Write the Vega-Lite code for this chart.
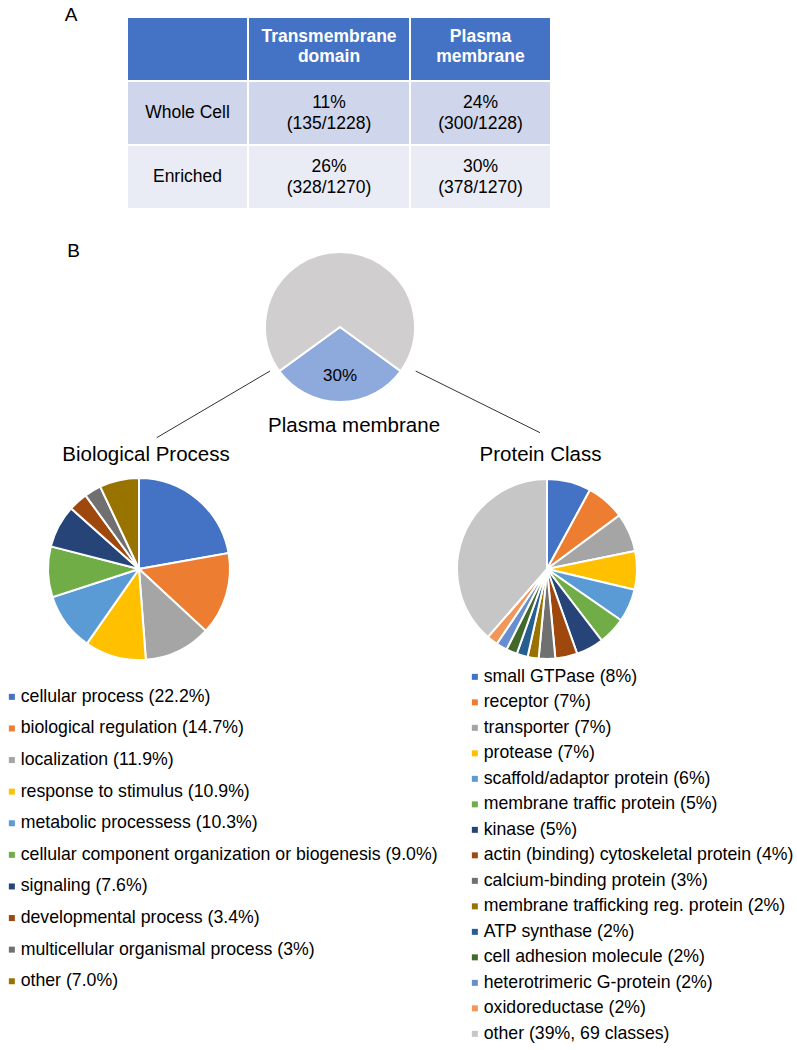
{
  "$schema": "https://vega.github.io/schema/vega-lite/v6.json",
  "padding": 0,
  "background": "white",
  "spacing": 0,
  "config": {
    "view": {"stroke": null},
    "font": "Liberation Sans",
    "text": {"color": "black"}
  },
  "datasets": {
    "table": [
      {"row": "header", "col": "label", "text": ""},
      {"row": "header", "col": "tm", "text": "Transmembrane\ndomain"},
      {"row": "header", "col": "pm", "text": "Plasma\nmembrane"},
      {"row": "Whole Cell", "col": "label", "text": "Whole Cell"},
      {"row": "Whole Cell", "col": "tm", "text": "11%\n(135/1228)"},
      {"row": "Whole Cell", "col": "pm", "text": "24%\n(300/1228)"},
      {"row": "Enriched", "col": "label", "text": "Enriched"},
      {"row": "Enriched", "col": "tm", "text": "26%\n(328/1270)"},
      {"row": "Enriched", "col": "pm", "text": "30%\n(378/1270)"}
    ],
    "top": [
      {"k": 1, "name": "Plasma membrane", "value": 30, "label": "30%"},
      {"k": 2, "name": "Other", "value": 70, "label": ""}
    ],
    "bp": [
      {"k": 1, "label": "cellular process (22.2%)", "pct": 22.2},
      {"k": 2, "label": "biological regulation (14.7%)", "pct": 14.7},
      {"k": 3, "label": "localization (11.9%)", "pct": 11.9},
      {"k": 4, "label": "response to stimulus (10.9%)", "pct": 10.9},
      {"k": 5, "label": "metabolic processess (10.3%)", "pct": 10.3},
      {"k": 6, "label": "cellular component organization or biogenesis (9.0%)", "pct": 9.0},
      {"k": 7, "label": "signaling (7.6%)", "pct": 7.6},
      {"k": 8, "label": "developmental process (3.4%)", "pct": 3.4},
      {"k": 9, "label": "multicellular organismal process (3%)", "pct": 3},
      {"k": 10, "label": "other (7.0%)", "pct": 7.0}
    ],
    "pc": [
      {"k": 1, "label": "small GTPase (8%)", "pct": 8},
      {"k": 2, "label": "receptor (7%)", "pct": 7},
      {"k": 3, "label": "transporter (7%)", "pct": 7},
      {"k": 4, "label": "protease (7%)", "pct": 7},
      {"k": 5, "label": "scaffold/adaptor protein (6%)", "pct": 6},
      {"k": 6, "label": "membrane traffic protein (5%)", "pct": 5},
      {"k": 7, "label": "kinase (5%)", "pct": 5},
      {"k": 8, "label": "actin (binding) cytoskeletal protein (4%)", "pct": 4},
      {"k": 9, "label": "calcium-binding protein (3%)", "pct": 3},
      {"k": 10, "label": "membrane trafficking reg. protein (2%)", "pct": 2},
      {"k": 11, "label": "ATP synthase (2%)", "pct": 2},
      {"k": 12, "label": "cell adhesion molecule (2%)", "pct": 2},
      {"k": 13, "label": "heterotrimeric G-protein (2%)", "pct": 2},
      {"k": 14, "label": "oxidoreductase (2%)", "pct": 2},
      {"k": 15, "label": "other (39%, 69 classes)", "pct": 39}
    ]
  },
  "resolve": {
    "scale": {"x": "independent", "y": "independent", "color": "independent", "theta": "independent", "fill": "independent"},
    "legend": {"color": "independent"}
  },
  "vconcat": [
    {
      "spacing": 0,
      "bounds": "flush",
      "hconcat": [
        {
          "width": 127, "height": 30,
          "data": {"values": [{"t": "A"}]},
          "mark": {"type": "text", "fontSize": 19, "dx": 7.5},
          "encoding": {"text": {"field": "t"}}
        },
        {
          "width": 121, "height": 209,
          "data": {"name": "table"},
          "transform": [{"filter": "datum.col === 'label'"}],
          "layer": [
            {
              "mark": {"type": "rect", "stroke": "white", "strokeWidth": 2},
              "encoding": {
                "y": {"field": "row", "type": "nominal", "scale": {"domain": ["header", "Whole Cell", "Enriched"], "range": [17, 209], "paddingInner": 0, "paddingOuter": 0}, "axis": null},
                "fill": {"field": "row", "type": "nominal", "scale": {"domain": ["header", "Whole Cell", "Enriched"], "range": ["#4472C4", "#CFD5EA", "#E9EBF5"]}, "legend": null}
              }
            },
            {
              "transform": [{"filter": "datum.row !== 'header'"}],
              "mark": {"type": "text", "fontSize": 17.5, "lineBreak": "\n", "lineHeight": 20.6},
              "encoding": {
                "y": {"field": "row", "type": "nominal", "scale": {"domain": ["header", "Whole Cell", "Enriched"], "range": [17, 209], "paddingInner": 0, "paddingOuter": 0}, "axis": null},
                "text": {"field": "text"}
              }
            }
          ]
        },
        {
          "width": 162, "height": 209,
          "data": {"name": "table"},
          "transform": [{"filter": "datum.col === 'tm'"}],
          "layer": [
            {
              "mark": {"type": "rect", "stroke": "white", "strokeWidth": 2},
              "encoding": {
                "y": {"field": "row", "type": "nominal", "scale": {"domain": ["header", "Whole Cell", "Enriched"], "range": [17, 209], "paddingInner": 0, "paddingOuter": 0}, "axis": null},
                "fill": {"field": "row", "type": "nominal", "scale": {"domain": ["header", "Whole Cell", "Enriched"], "range": ["#4472C4", "#CFD5EA", "#E9EBF5"]}, "legend": null}
              }
            },
            {
              "transform": [{"filter": "datum.row === 'header'"}],
              "mark": {"type": "text", "fontSize": 17.5, "fontWeight": "bold", "color": "white", "lineBreak": "\n", "lineHeight": 20.2, "dy": -12},
              "encoding": {
                "y": {"field": "row", "type": "nominal", "scale": {"domain": ["header", "Whole Cell", "Enriched"], "range": [17, 209], "paddingInner": 0, "paddingOuter": 0}, "axis": null},
                "text": {"field": "text"}
              }
            },
            {
              "transform": [{"filter": "datum.row !== 'header'"}],
              "mark": {"type": "text", "fontSize": 17.5, "lineBreak": "\n", "lineHeight": 20.6, "dy": -10},
              "encoding": {
                "y": {"field": "row", "type": "nominal", "scale": {"domain": ["header", "Whole Cell", "Enriched"], "range": [17, 209], "paddingInner": 0, "paddingOuter": 0}, "axis": null},
                "text": {"field": "text"}
              }
            }
          ]
        },
        {
          "width": 141, "height": 209,
          "data": {"name": "table"},
          "transform": [{"filter": "datum.col === 'pm'"}],
          "layer": [
            {
              "mark": {"type": "rect", "stroke": "white", "strokeWidth": 2},
              "encoding": {
                "y": {"field": "row", "type": "nominal", "scale": {"domain": ["header", "Whole Cell", "Enriched"], "range": [17, 209], "paddingInner": 0, "paddingOuter": 0}, "axis": null},
                "fill": {"field": "row", "type": "nominal", "scale": {"domain": ["header", "Whole Cell", "Enriched"], "range": ["#4472C4", "#CFD5EA", "#E9EBF5"]}, "legend": null}
              }
            },
            {
              "transform": [{"filter": "datum.row === 'header'"}],
              "mark": {"type": "text", "fontSize": 17.5, "fontWeight": "bold", "color": "white", "lineBreak": "\n", "lineHeight": 20.2, "dy": -12},
              "encoding": {
                "y": {"field": "row", "type": "nominal", "scale": {"domain": ["header", "Whole Cell", "Enriched"], "range": [17, 209], "paddingInner": 0, "paddingOuter": 0}, "axis": null},
                "text": {"field": "text"}
              }
            },
            {
              "transform": [{"filter": "datum.row !== 'header'"}],
              "mark": {"type": "text", "fontSize": 17.5, "lineBreak": "\n", "lineHeight": 20.6, "dy": -10},
              "encoding": {
                "y": {"field": "row", "type": "nominal", "scale": {"domain": ["header", "Whole Cell", "Enriched"], "range": [17, 209], "paddingInner": 0, "paddingOuter": 0}, "axis": null},
                "text": {"field": "text"}
              }
            }
          ]
        }
      ]
    },
    {
      "spacing": 0,
      "bounds": "flush",
      "hconcat": [
        {
          "width": 127, "height": 82,
          "data": {"values": [{"t": "B"}]},
          "mark": {"type": "text", "fontSize": 19, "dx": 10},
          "encoding": {"text": {"field": "t"}}
        },
        {
          "width": 426, "height": 234,
          "data": {"name": "top"},
          "layer": [
            {
              "mark": {"type": "arc", "radius": 75, "stroke": "white", "strokeWidth": 2},
              "encoding": {
                "theta": {"field": "value", "type": "quantitative", "stack": true, "scale": {"range": [2.19911, 8.48230]}},
                "order": {"field": "k", "type": "quantitative"},
                "color": {"field": "name", "type": "nominal", "scale": {"domain": ["Plasma membrane", "Other"], "range": ["#8EA9DB", "#D0CECE"]}, "legend": null}
              }
            },
            {
              "mark": {"type": "text", "radius": 49, "fontSize": 17},
              "encoding": {
                "theta": {"field": "value", "type": "quantitative", "stack": true, "scale": {"range": [2.19911, 8.48230]}},
                "order": {"field": "k", "type": "quantitative"},
                "text": {"field": "label"}
              }
            },
            {
              "data": {"values": [{}]},
              "mark": {"type": "rule", "color": "#333333", "strokeWidth": 1},
              "encoding": {
                "x": {"datum": -0.933, "type": "quantitative", "scale": {"domain": [-2.84, 2.84], "nice": false, "zero": false}, "axis": null},
                "y": {"datum": 0.587, "type": "quantitative", "scale": {"domain": [-1.56, 1.56], "nice": false, "zero": false, "reverse": true}, "axis": null},
                "x2": {"datum": -2.444},
                "y2": {"datum": 1.476}
              }
            },
            {
              "data": {"values": [{}]},
              "mark": {"type": "rule", "color": "#333333", "strokeWidth": 1},
              "encoding": {
                "x": {"datum": 1.009, "type": "quantitative", "scale": {"domain": [-2.84, 2.84], "nice": false, "zero": false}, "axis": null},
                "y": {"datum": 0.587, "type": "quantitative", "scale": {"domain": [-1.56, 1.56], "nice": false, "zero": false, "reverse": true}, "axis": null},
                "x2": {"datum": 2.667},
                "y2": {"datum": 1.409}
              }
            },
            {
              "data": {"values": [{"t": "Plasma membrane"}]},
              "mark": {"type": "text", "fontSize": 20.5},
              "encoding": {
                "x": {"datum": 0.187, "type": "quantitative", "scale": {"domain": [-2.84, 2.84], "nice": false, "zero": false}, "axis": null},
                "y": {"datum": 1.32, "type": "quantitative", "scale": {"domain": [-1.56, 1.56], "nice": false, "zero": false, "reverse": true}, "axis": null},
                "text": {"field": "t"}
              }
            }
          ]
        }
      ]
    },
    {
      "spacing": 130,
      "bounds": "flush",
      "resolve": {"scale": {"color": "independent", "theta": "independent"}, "legend": {"color": "independent"}},
      "hconcat": [
        {
          "width": 278, "height": 248,
          "title": {"text": "Biological Process", "fontSize": 20.5, "fontWeight": "normal", "color": "black", "baseline": "middle", "offset": -30, "dx": 7, "frame": "group"},
          "data": {"name": "bp"},
          "mark": {"type": "arc", "radius": 91, "stroke": "white", "strokeWidth": 2},
          "encoding": {
            "theta": {"field": "pct", "type": "quantitative", "stack": true},
            "order": {"field": "k", "type": "quantitative"},
            "color": {
              "field": "label", "type": "nominal",
              "scale": {
                "domain": ["cellular process (22.2%)", "biological regulation (14.7%)", "localization (11.9%)", "response to stimulus (10.9%)", "metabolic processess (10.3%)", "cellular component organization or biogenesis (9.0%)", "signaling (7.6%)", "developmental process (3.4%)", "multicellular organismal process (3%)", "other (7.0%)"],
                "range": ["#4472C4", "#ED7D31", "#A5A5A5", "#FFC000", "#5B9BD5", "#70AD47", "#264478", "#9E480E", "#707070", "#997300"]
              },
              "legend": {"orient": "none", "legendX": 3, "legendY": 243, "title": null, "symbolType": "square", "symbolSize": 36, "symbolStrokeWidth": 0, "labelFontSize": 17.7, "labelColor": "black", "labelLimit": 700, "rowPadding": 12.6, "labelOffset": 0, "padding": 0}
            }
          }
        },
        {
          "width": 278, "height": 248,
          "title": {"text": "Protein Class", "fontSize": 20.5, "fontWeight": "normal", "color": "black", "baseline": "middle", "offset": -30, "dx": -6.5, "frame": "group"},
          "data": {"name": "pc"},
          "mark": {"type": "arc", "radius": 90, "stroke": "white", "strokeWidth": 2},
          "encoding": {
            "theta": {"field": "pct", "type": "quantitative", "stack": true},
            "order": {"field": "k", "type": "quantitative"},
            "color": {
              "field": "label", "type": "nominal",
              "scale": {
                "domain": ["small GTPase (8%)", "receptor (7%)", "transporter (7%)", "protease (7%)", "scaffold/adaptor protein (6%)", "membrane traffic protein (5%)", "kinase (5%)", "actin (binding) cytoskeletal protein (4%)", "calcium-binding protein (3%)", "membrane trafficking reg. protein (2%)", "ATP synthase (2%)", "cell adhesion molecule (2%)", "heterotrimeric G-protein (2%)", "oxidoreductase (2%)", "other (39%, 69 classes)"],
                "range": ["#4472C4", "#ED7D31", "#A5A5A5", "#FFC000", "#5B9BD5", "#70AD47", "#264478", "#9E480E", "#707070", "#997300", "#255E91", "#43682B", "#698ED0", "#F1975A", "#C6C6C6"]
              },
              "legend": {"orient": "none", "legendX": 58, "legendY": 223, "title": null, "symbolType": "square", "symbolSize": 36, "symbolStrokeWidth": 0, "labelFontSize": 17.7, "labelColor": "black", "labelLimit": 700, "rowPadding": 6.5, "labelOffset": 0, "padding": 0}
            }
          }
        }
      ]
    }
  ]
}
